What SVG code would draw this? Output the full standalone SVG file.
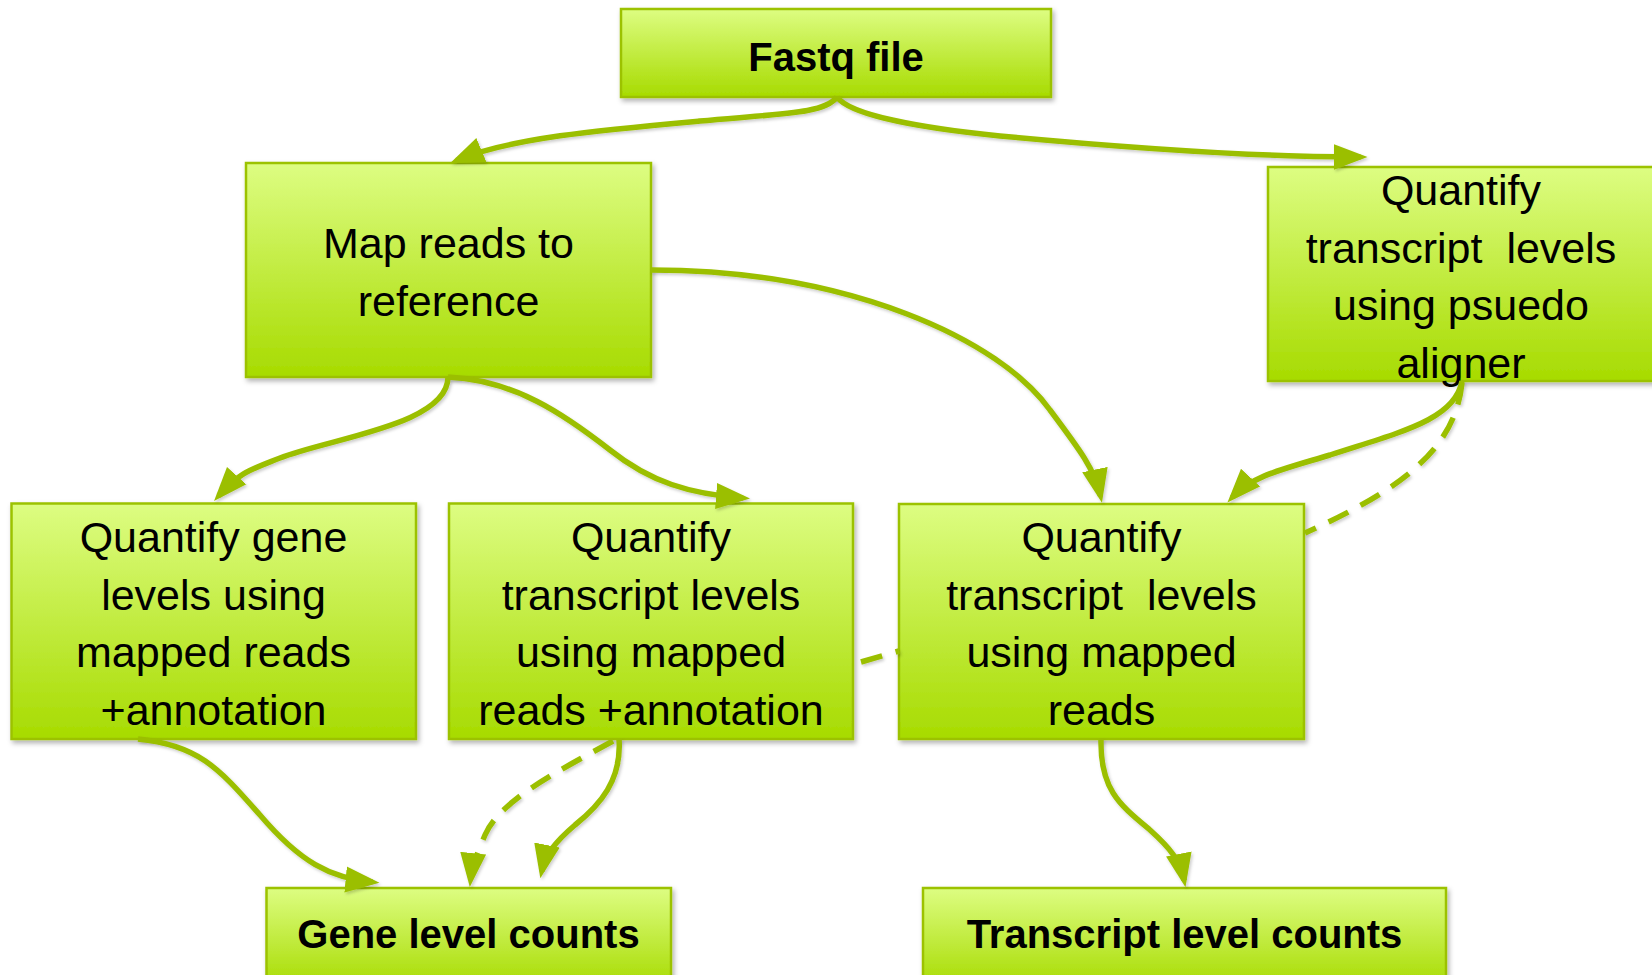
<svg xmlns="http://www.w3.org/2000/svg" width="1652" height="975" viewBox="0 0 1652 975">
<style>
.box{fill:url(#g);stroke:#9cc200;stroke-width:2.5;filter:url(#sh)}
.t{font-family:"Liberation Sans",Arial,sans-serif;font-size:43px;fill:#000;text-anchor:middle}
.b{font-family:"Liberation Sans",Arial,sans-serif;font-size:40px;font-weight:bold;fill:#000;text-anchor:middle}
.c{fill:none;stroke:#9bbf00;stroke-width:5.5;marker-end:url(#ah)}
.d{fill:none;stroke:#9bbf00;stroke-width:5.5;stroke-dasharray:22 14}
</style>
<defs>
<linearGradient id="g" x1="0" y1="0" x2="0" y2="1">
<stop offset="0" stop-color="#ddfd82"/>
<stop offset="1" stop-color="#a7db00"/>
</linearGradient>
<filter id="sh" x="-5%" y="-5%" width="110%" height="115%">
<feDropShadow dx="2" dy="3" stdDeviation="2.5" flood-color="#000" flood-opacity="0.3"/>
</filter>
<filter id="lsh" x="-10%" y="-10%" width="120%" height="120%">
<feDropShadow dx="1.5" dy="2" stdDeviation="1.5" flood-color="#000" flood-opacity="0.2"/>
</filter>
<marker id="ah" markerUnits="userSpaceOnUse" markerWidth="36" markerHeight="28" refX="27" refY="13.5" orient="auto">
<path d="M0,0.5 L34,13.5 L0,26.5 z" fill="#9bbf00"/>
</marker>
</defs>
<g id="n-fastq">
<rect class="box" x="621" y="9" width="430" height="88"/>
<text class="b" x="836" y="71">Fastq file</text>
</g>
<g id="n-map">
<rect class="box" x="246" y="163" width="405" height="214"/>
<text class="t" x="448.5" y="258">Map reads to</text>
<text class="t" x="448.5" y="316">reference</text>
</g>
<g id="n-pseudo">
<rect class="box" x="1268" y="167" width="400" height="214"/>
<text class="t" x="1461" y="205">Quantify</text>
<text class="t" x="1461" y="262.5" xml:space="preserve">transcript  levels</text>
<text class="t" x="1461" y="320">using psuedo</text>
<text class="t" x="1461" y="377.5">aligner</text>
</g>
<g id="n-gene">
<rect class="box" x="11.5" y="503.5" width="404.5" height="235.5"/>
<text class="t" x="213.5" y="552">Quantify gene</text>
<text class="t" x="213.5" y="609.5">levels using</text>
<text class="t" x="213.5" y="667">mapped reads</text>
<text class="t" x="213.5" y="724.5">+annotation</text>
</g>
<g id="n-tx-annot">
<rect class="box" x="449" y="503.5" width="404" height="235.5"/>
<text class="t" x="651" y="552">Quantify</text>
<text class="t" x="651" y="609.5">transcript levels</text>
<text class="t" x="651" y="667">using mapped</text>
<text class="t" x="651" y="724.5">reads +annotation</text>
</g>
<g id="n-tx-mapped">
<rect class="box" x="899" y="504" width="405" height="235"/>
<text class="t" x="1101.5" y="552">Quantify</text>
<text class="t" x="1101.5" y="609.5" xml:space="preserve">transcript  levels</text>
<text class="t" x="1101.5" y="667">using mapped</text>
<text class="t" x="1101.5" y="724.5">reads</text>
</g>
<g id="n-gene-counts">
<rect class="box" x="266.5" y="888" width="404.5" height="100"/>
<text class="b" x="468.5" y="948">Gene level counts</text>
</g>
<g id="n-tx-counts">
<rect class="box" x="923" y="888" width="523" height="100"/>
<text class="b" x="1184.5" y="948">Transcript level counts</text>
</g>
<g id="connectors" filter="url(#lsh)">
<path class="c" d="M837,97 C825,113 790,113 700,121 C600,130 510,138 456.5,160.5"/>
<path class="c" d="M837,97 C850,115 920,128 1000,136 C1150,150 1280,157 1360.5,157"/>
<path class="c" d="M448,377 C448,425 330,438 280,458 C250,470 240,472 218.7,495.8"/>
<path class="c" d="M448,377 C515,380 565,415 610,450 C650,482 690,494 743,498"/>
<path class="c" d="M651,270 C850,270 1000,340 1050,410 C1080,450 1095,470 1100.5,496"/>
<path class="c" d="M1462,381 C1455,420 1400,432 1330,455 C1280,470 1252,476 1232.2,497.4"/>
<path class="d" d="M1462,383 C1455,450 1400,490 1305,533"/>
<path class="d" d="M861,662 L899,651"/>
<path class="c" d="M138,739 C200,745 220,770 260,815 C300,862 330,878 372.5,882"/>
<path class="c" d="M619,739 C622,780 600,805 575,825 C555,842 545,855 541.7,871.5"/>
<path class="d" d="M613,741 C560,770 500,800 485,835 C478,852 472,865 470.5,880" marker-end="url(#ah)"/>
<path class="c" d="M1101,739 C1100,790 1120,805 1150,830 C1170,848 1180,860 1184.1,880.5"/>
</g>
</svg>
